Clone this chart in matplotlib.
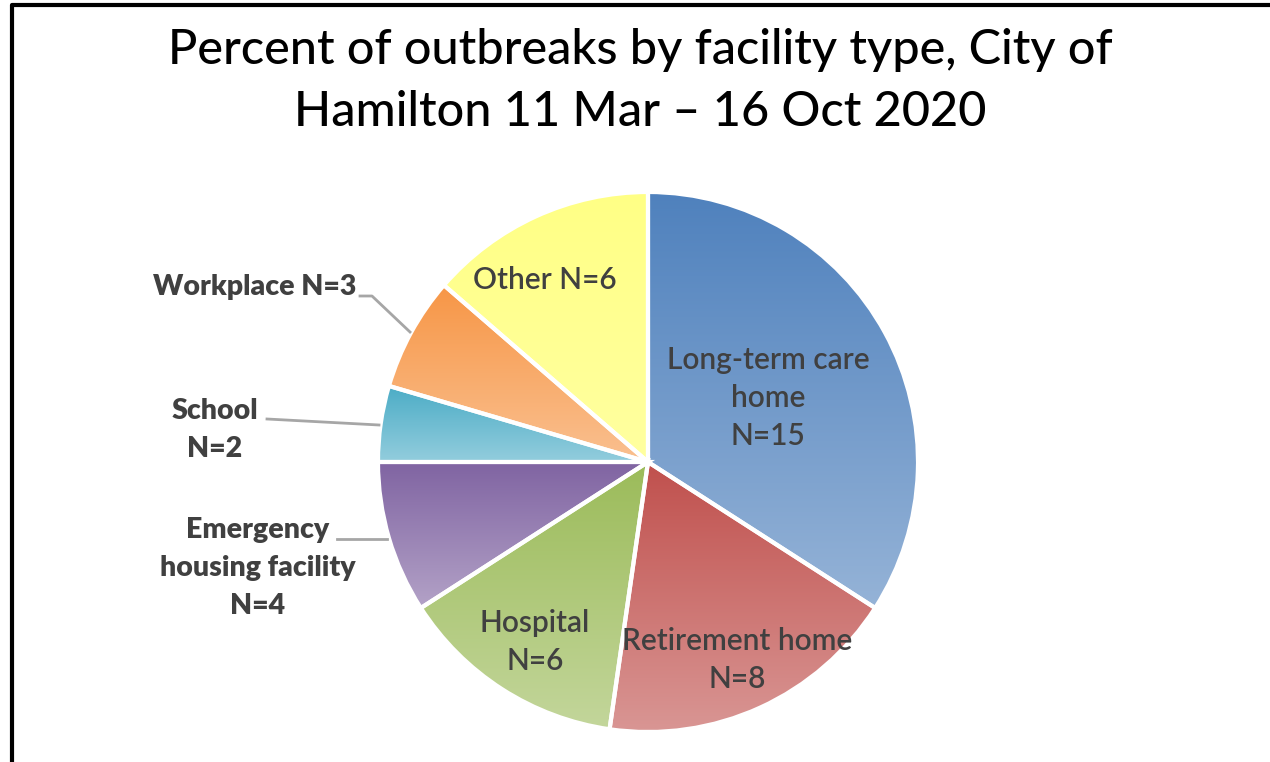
import numpy as np
import matplotlib
matplotlib.use("Agg")
import matplotlib.pyplot as plt
from matplotlib.colors import to_rgb

plt.rcParams['font.family'] = ['Lato', 'DejaVu Sans']

# data
categories = ['Long-term care home', 'Retirement home', 'Hospital',
              'Emergency housing facility', 'School', 'Workplace', 'Other']
counts = [15, 8, 6, 4, 2, 3, 6]
top_colors = ['#4f81bd', '#c0504d', '#9bbb59', '#8064a2', '#4bacc6', '#f79646', '#ffff85']
bottom_colors = ['#95b3d7', '#d99694', '#c3d69b', '#b3a2c7', '#93cddd', '#fac090', '#ffffa0']
title = 'Percent of outbreaks by facility type, City of\nHamilton 11 Mar \u2013 16 Oct 2020'

W, H = 1270, 762
fig = plt.figure(figsize=(W / 100, H / 100), dpi=100)
ax = fig.add_axes([0, 0, 1, 1])

cx, cy, R = 648, H - 462, 270
wedges, _ = ax.pie(counts, startangle=90, counterclock=False, center=(cx, cy), radius=R,
                   wedgeprops=dict(facecolor='none', edgecolor='white', linewidth=3, zorder=3))

# gradient fill, per slice, top to bottom
for w, c0, c1 in zip(wedges, top_colors, bottom_colors):
    bb = w.get_path().get_extents()
    t = np.linspace(0, 1, 256)[:, None]
    grad = (1 - t) * np.array(to_rgb(c0)) + t * np.array(to_rgb(c1))
    img = np.repeat(grad[:, None, :], 2, axis=1)
    im = ax.imshow(img, extent=(bb.x0, bb.x1, bb.y0, bb.y1), origin='upper',
                   interpolation='bilinear', zorder=2, aspect='auto')
    im.set_clip_path(w)

tc = '#404040'
inside = dict(ha='center', va='center', color=tc, fontsize=21.5, fontweight='semibold',
              linespacing=1.43, zorder=5)
ax.text(768, H - 398, 'Long-term care\nhome\nN=15', **inside)
ax.text(737, H - 660, 'Retirement home\nN=8', **inside)
ax.text(535, H - 642, 'Hospital\nN=6', **inside)
ax.text(545, H - 280, 'Other N=6', **inside)

outside = dict(ha='center', va='center', color=tc, fontsize=20.5, fontweight='heavy',
               linespacing=1.58, zorder=5)
ax.text(255, H - 287, 'Workplace N=3', **outside)
ax.text(215, H - 430, 'School\nN=2', **outside)
ax.text(258, H - 568, 'Emergency\nhousing facility\nN=4', **outside)

lc = '#a6a6a6'
ax.plot([360, 372, 410], [H - 296, H - 296, H - 332], color=lc, lw=2, zorder=4)
ax.plot([267, 379], [H - 419, H - 425], color=lc, lw=2, zorder=4)
ax.plot([337, 387], [H - 539, H - 539], color=lc, lw=2, zorder=4)

ax.text(640, H - 81, title, ha='center', va='center', fontsize=35, color='black',
        fontweight='medium', linespacing=1.48)

# border on left and top
ax.plot([12, 12, W], [0, H - 5, H - 5], color='black', lw=3, zorder=6)

ax.set_xlim(0, W)
ax.set_ylim(0, H)
ax.set_aspect('auto')
ax.axis('off')

fig.savefig('out.png', dpi=100)
